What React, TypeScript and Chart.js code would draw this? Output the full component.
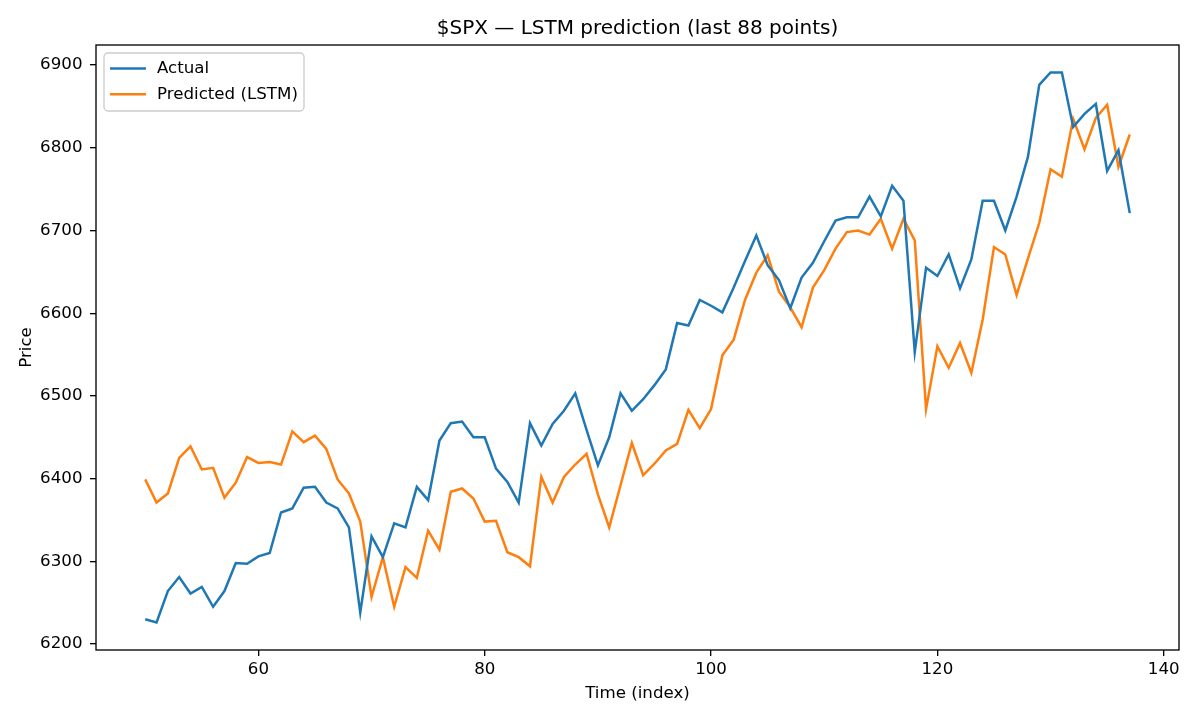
import React, { useEffect, useRef } from "react";
import { Chart, registerables } from "chart.js";

Chart.register(...registerables);

const TITLE = "$SPX — LSTM prediction (last 88 points)";
const X_LABEL = "Time (index)";
const Y_LABEL = "Price";

const TIME_INDEX = [
  50, 51, 52, 53, 54, 55, 56, 57, 58, 59,
  60, 61, 62, 63, 64, 65, 66, 67, 68, 69,
  70, 71, 72, 73, 74, 75, 76, 77, 78, 79,
  80, 81, 82, 83, 84, 85, 86, 87, 88, 89,
  90, 91, 92, 93, 94, 95, 96, 97, 98, 99,
  100, 101, 102, 103, 104, 105, 106, 107, 108, 109,
  110, 111, 112, 113, 114, 115, 116, 117, 118, 119,
  120, 121, 122, 123, 124, 125, 126, 127, 128, 129,
  130, 131, 132, 133, 134, 135, 136, 137,
];

const ACTUAL = [
  6230, 6226, 6264, 6281, 6261, 6269, 6245, 6264, 6298, 6297,
  6306, 6310, 6359, 6364, 6389, 6390, 6371, 6364, 6341, 6238,
  6330, 6305, 6346, 6341, 6390, 6374, 6446, 6467, 6469, 6450,
  6450, 6412, 6396, 6371, 6467, 6440, 6466, 6482, 6503, 6459,
  6416, 6450, 6503, 6482, 6496, 6513, 6532, 6588, 6585, 6616,
  6609, 6601, 6631, 6663, 6694, 6658, 6640, 6606, 6643, 6661,
  6687, 6712, 6716, 6716, 6741, 6717, 6754, 6736, 6553, 6655,
  6645, 6671, 6630, 6665, 6736, 6736, 6700, 6741, 6789, 6876,
  6891, 6891, 6825, 6841, 6853, 6772, 6797, 6721,
];

const PREDICTED = [
  6399, 6371, 6382, 6425, 6439, 6411, 6413, 6377, 6395, 6426,
  6419, 6420, 6417, 6457, 6444, 6452, 6436, 6399, 6382, 6348,
  6257, 6305, 6245, 6293, 6280, 6337, 6314, 6384, 6388, 6376,
  6348, 6349, 6311, 6305, 6294, 6402, 6371, 6402, 6417, 6430,
  6381, 6341, 6392, 6443, 6404, 6418, 6434, 6442, 6483, 6461,
  6484, 6549, 6568, 6616, 6649, 6670, 6626, 6607, 6583, 6631,
  6652, 6678, 6698, 6700, 6695, 6714, 6678, 6714, 6688, 6484,
  6560, 6534, 6564, 6528, 6592, 6680, 6671, 6622, 6666, 6709,
  6774, 6765, 6835, 6798, 6836, 6852, 6777, 6816,
];

const X_TICKS = [60, 80, 100, 120, 140];
const Y_TICKS = [6200, 6300, 6400, 6500, 6600, 6700, 6800, 6900];

const SERIES_NAMES = ["Actual", "Predicted (LSTM)"];
const SERIES_COLORS = ["#1f77b4", "#ff7f0e"];

const FONT = "DejaVu Sans";

function margins(values: number[]) {
  const lo = Math.min(...values);
  const hi = Math.max(...values);
  const m = (hi - lo) * 0.05;
  return [lo - m, hi + m];
}

export default function App() {
  const ref = useRef<HTMLCanvasElement | null>(null);

  useEffect(() => {
    document.body.style.margin = "0";
    const canvas = ref.current;
    if (!canvas) return;

    const [xMin, xMax] = margins(TIME_INDEX);
    const [yMin, yMax] = margins([...ACTUAL, ...PREDICTED]);

    const decorations = {
      id: "mplDecorations",
      afterDraw(chart: any) {
        const { ctx, chartArea } = chart;
        const { left, right, top, bottom } = chartArea;
        ctx.save();
        // frame
        ctx.strokeStyle = "#000";
        ctx.lineWidth = 1.33;
        ctx.strokeRect(left, top, right - left, bottom - top);
        // title
        ctx.fillStyle = "#000";
        ctx.font = `20px "${FONT}"`;
        ctx.textAlign = "center";
        ctx.textBaseline = "middle";
        ctx.fillText(TITLE, (left + right) / 2, 28.5);
        // legend
        const lx = 104, ly = 53, lw = 200, lh = 58, r = 4;
        ctx.beginPath();
        ctx.moveTo(lx + r, ly);
        ctx.lineTo(lx + lw - r, ly);
        ctx.arcTo(lx + lw, ly, lx + lw, ly + r, r);
        ctx.lineTo(lx + lw, ly + lh - r);
        ctx.arcTo(lx + lw, ly + lh, lx + lw - r, ly + lh, r);
        ctx.lineTo(lx + r, ly + lh);
        ctx.arcTo(lx, ly + lh, lx, ly + lh - r, r);
        ctx.lineTo(lx, ly + r);
        ctx.arcTo(lx, ly, lx + r, ly, r);
        ctx.closePath();
        ctx.fillStyle = "rgba(255,255,255,0.8)";
        ctx.fill();
        ctx.strokeStyle = "#cccccc";
        ctx.lineWidth = 1.33;
        ctx.stroke();
        SERIES_NAMES.forEach((name, i) => {
          const y = 68.5 + i * 25.8;
          ctx.strokeStyle = SERIES_COLORS[i];
          ctx.lineWidth = 2.5;
          ctx.beginPath();
          ctx.moveTo(110, y);
          ctx.lineTo(146, y);
          ctx.stroke();
          ctx.fillStyle = "#000";
          ctx.font = `16.67px "${FONT}"`;
          ctx.textAlign = "left";
          ctx.textBaseline = "middle";
          ctx.fillText(name, 157, y);
        });
        ctx.restore();
      },
    };

    const tickFont = { family: FONT, size: 16.67 };

    const chart = new Chart(canvas, {
      type: "line",
      data: {
        datasets: [ACTUAL, PREDICTED].map((vals, i) => ({
          label: SERIES_NAMES[i],
          data: TIME_INDEX.map((x, j) => ({ x, y: vals[j] })),
          borderColor: SERIES_COLORS[i],
          backgroundColor: SERIES_COLORS[i],
          borderWidth: 2.5,
          pointRadius: 0,
          tension: 0,
          fill: false,
        })),
      },
      options: {
        responsive: false,
        animation: false,
        layout: { padding: { top: 45, right: 21, left: 0, bottom: 0 } },
        plugins: {
          legend: { display: false },
          title: { display: false },
          tooltip: { enabled: false },
        },
        scales: {
          x: {
            type: "linear",
            min: xMin,
            max: xMax,
            afterBuildTicks(scale: any) {
              scale.ticks = X_TICKS.map((v) => ({ value: v }));
            },
            afterFit(scale: any) {
              scale.height = 70;
            },
            grid: {
              display: true,
              drawOnChartArea: false,
              drawTicks: true,
              tickLength: 6,
              color: "#000",
              lineWidth: 1.33,
            },
            border: { display: false },
            ticks: {
              color: "#000",
              font: tickFont,
              padding: 3.5,
              maxRotation: 0,
              autoSkip: false,
              callback: (v: any) => String(v),
            },
            title: {
              display: true,
              text: X_LABEL,
              color: "#000",
              font: tickFont,
              padding: { top: 0, bottom: 16 },
            },
          },
          y: {
            type: "linear",
            min: yMin,
            max: yMax,
            afterBuildTicks(scale: any) {
              scale.ticks = Y_TICKS.map((v) => ({ value: v }));
            },
            afterFit(scale: any) {
              scale.width = 96;
            },
            grid: {
              display: true,
              drawOnChartArea: false,
              drawTicks: true,
              tickLength: 6,
              color: "#000",
              lineWidth: 1.33,
            },
            border: { display: false },
            ticks: {
              color: "#000",
              font: tickFont,
              padding: 7.5,
              autoSkip: false,
              callback: (v: any) => String(v),
            },
            title: {
              display: true,
              text: Y_LABEL,
              color: "#000",
              font: tickFont,
              padding: { top: 16.3, bottom: 0 },
            },
          },
        },
      },
      plugins: [decorations],
    });

    return () => chart.destroy();
  }, []);

  return (
    <div style={{ width: 1200, height: 720, background: "#fff" }}>
      <canvas ref={ref} width={1200} height={720} style={{ display: "block" }} />
    </div>
  );
}
